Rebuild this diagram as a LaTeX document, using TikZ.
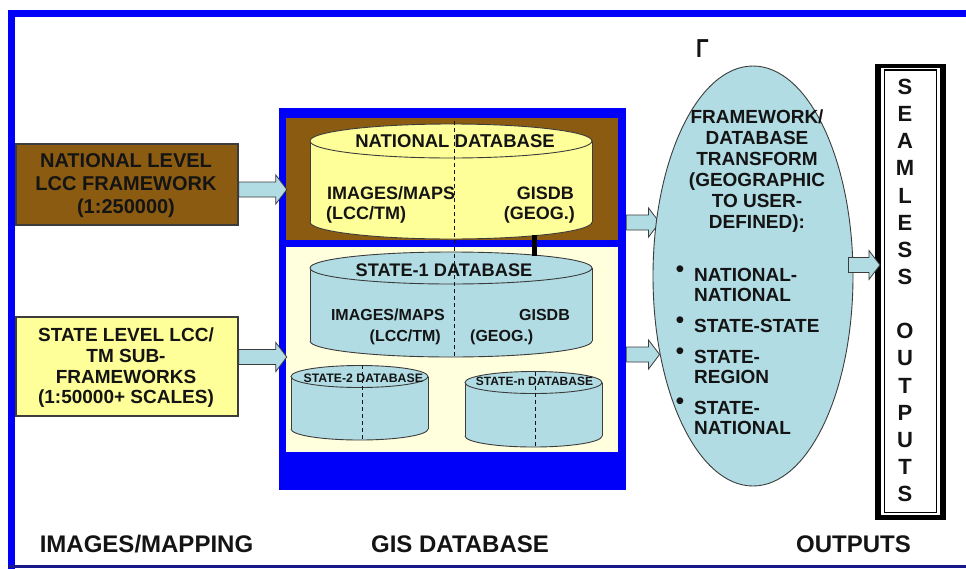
\documentclass[tikz,border=0pt]{standalone}
\usepackage{fontspec}
\setmainfont{Liberation Sans}
\usetikzlibrary{calc,shapes.geometric}
\definecolor{brownbg}{RGB}{139,91,18}
\definecolor{ylw}{RGB}{255,255,153}
\definecolor{lylw}{RGB}{255,255,222}
\definecolor{lblue}{RGB}{178,220,228}
\definecolor{abl}{RGB}{0,0,250}
\definecolor{navy}{RGB}{24,24,140}
\definecolor{edge}{RGB}{60,60,60}
\definecolor{txtc}{RGB}{20,20,20}
\pgfdeclarelayer{backl}
\pgfdeclarelayer{bgl}
\pgfsetlayers{backl,bgl,main}
\newcommand\myfs[2]{\fontsize{#1pt}{#2pt}\selectfont}
% x1 x2 ytop ybot ry colour
\newcommand\dbcyl[6]{%
  \pgfmathsetmacro\cxc{(#1+#2)/2}%
  \pgfmathsetmacro\crx{(#2-#1)/2}%
  \fill[#6] (#1,#3) rectangle (#2,#4);
  \fill[#6] (\cxc,#4) ellipse [x radius=\crx, y radius=#5];
  \draw[cyledge] (#1,#3) -- (#1,#4);
  \draw[cyledge] (#2,#3) -- (#2,#4);
  \begin{scope}
    \clip (#1-3,#4) rectangle (#2+3,#4+#5+3);
    \draw[cyledge] (\cxc,#4) ellipse [x radius=\crx, y radius=#5];
  \end{scope}
  \draw[cyledge,fill=#6] (\cxc,#3) ellipse [x radius=\crx, y radius=#5];
}
\begin{document}
\begin{tikzpicture}[x=1pt,y=-1pt,
  cyledge/.style={draw=edge, line width=0.9pt},
  txt/.style={inner sep=0pt, font=\bfseries, text=txtc},
  inbox/.style={draw=edge, line width=1.2pt, inner sep=0pt},
  dashline/.style={draw=txtc, line width=1pt, dash pattern=on 4pt off 3pt},
  barrow/.style={draw=edge, fill=lblue, line width=0.8pt, line join=miter,
    to path={let \p1=(\tikztostart), \p2=(\tikztotarget) in
      (\x1,\y1+7.5pt) -- (\x2-11pt,\y1+7.5pt) -- (\x2-11pt,\y1+14.5pt) -- (\x2,\y1)
      -- (\x2-11pt,\y1-14.5pt) -- (\x2-11pt,\y1-7.5pt) -- (\x1,\y1-7.5pt) -- cycle}}
]
\useasboundingbox (0,0) rectangle (966,568);
\begin{pgfonlayer}{backl}
\fill[white] (0,0) rectangle (966,568);
\end{pgfonlayer}
% outer frame
\draw[abl, line width=7pt, line join=miter] (11.5,572) -- (11.5,13.5) -- (972,13.5);
\draw[navy, line width=3pt] (8,566.5) -- (972,566.5);

% input boxes
\node[inbox, fill=brownbg, minimum width=222pt, minimum height=81pt] (nat) at (127,184.5) {};
\node[txt, align=center, font=\bfseries\myfs{20}{23}] (nattxt) at (126,186) {NATIONAL LEVEL\\LCC FRAMEWORK\\(1:250000)};
\node[inbox, fill=ylw, minimum width=222pt, minimum height=99pt] (stb) at (127,366.5) {};
\node[txt, align=center, font=\bfseries\myfs{19}{20.7}] (sttxt) at (126,368) {STATE LEVEL LCC/\\TM SUB-\\FRAMEWORKS\\(1:50000+ SCALES)};

% GIS database
\node[fill=abl, minimum width=347pt, minimum height=382pt, inner sep=0pt] (gis) at (452.5,299) {};
\node[fill=brownbg, minimum width=332pt, minimum height=122pt, inner sep=0pt] (natarea) at (452,179) {};
\node[fill=lylw, minimum width=332pt, minimum height=205pt, inner sep=0pt] (starea) at (452,349.5) {};

\dbcyl{310}{592}{141}{222}{17}{ylw}
\dbcyl{310}{592}{268}{341}{16}{lblue}
\dbcyl{291}{428}{376.5}{429}{11}{lblue}
\dbcyl{465}{602}{382.5}{436}{11}{lblue}

\node[txt, font=\bfseries\myfs{18.5}{20}] (ndbt) at (455,141) {NATIONAL DATABASE};
\node[txt, anchor=base west, font=\bfseries\myfs{18}{20}] (ndbl1) at (327,199.4) {IMAGES/MAPS};
\node[txt, anchor=base west, font=\bfseries\myfs{18}{20}] (ndbl2) at (326,219.4) {(LCC/TM)};
\node[txt, anchor=base east, font=\bfseries\myfs{18}{20}] (ndbr1) at (574,199.4) {GISDB};
\node[txt, anchor=base east, font=\bfseries\myfs{18}{20}] (ndbr2) at (575,219.4) {(GEOG.)};

\node[txt, font=\bfseries\myfs{18.2}{20}] (s1t) at (444,270) {STATE-1 DATABASE};
\node[txt, anchor=base east, font=\bfseries\myfs{16}{20}] (s1l1) at (445,320.7) {IMAGES/MAPS};
\node[txt, anchor=base east, font=\bfseries\myfs{16}{20}] (s1l2) at (441,341) {(LCC/TM)};
\node[txt, anchor=base east, font=\bfseries\myfs{16}{20}] (s1r1) at (570,320.7) {GISDB};
\node[txt, anchor=base west, font=\bfseries\myfs{16}{20}] (s1r2) at (470,341) {(GEOG.)};

\node[txt, font=\bfseries\myfs{12.3}{14}] (s2t) at (363.3,378.3) {STATE-2 DATABASE};
\node[txt, font=\bfseries\myfs{12}{14}] (snt) at (534.5,381.3) {STATE-n DATABASE};

\draw[dashline] (454,121) -- (454,357);
\draw[dashline] (362,365) -- (362,440);
\draw[dashline] (535,371.5) -- (535,447);
\draw[line width=5pt] ($(natarea.south)+(82,-5)$) -- ($(starea.north)+(82,9)$);

% arrows into GIS database
\coordinate (a1s) at ($(nat.east)+(0,5)$);
\coordinate (a1e) at ($(natarea.west)+(1,5)$);
\draw[barrow] (a1s) to (a1e);
\coordinate (a2s) at ($(stb.east)+(0,-9.5)$);
\coordinate (a2e) at ($(starea.west)+(1,0)$);
\draw[barrow] (a2s) to (a2e);

% transform ellipse
\node[ellipse, draw=edge, fill=lblue, line width=0.9pt, minimum width=200pt, minimum height=420pt, inner sep=0pt] (tfm) at (753,276) {};
\begin{pgfonlayer}{bgl}
\coordinate (a3s) at ($(gis.east)+(0,-76.5)$);
\coordinate (a3e) at ($(tfm.west)+(7,0)$);
\draw[barrow] (a3s) to (a3e);
\coordinate (a4s) at ($(gis.east)+(0,55.5)$);
\coordinate (a4e) at ($(tfm.west)+(7,0)$);
\draw[barrow] (a4s) to (a4e);
\end{pgfonlayer}
\node[txt, align=center, font=\bfseries\myfs{19}{21}] (tfmt) at (757,171.5) {FRAMEWORK/\\DATABASE\\TRANSFORM\\(GEOGRAPHIC\\TO USER-\\DEFINED):};
\node[txt, font=\myfs{25}{25}] (bu1) at (680,272) {•};
\node[txt, font=\myfs{25}{25}] (bu2) at (680,322.5) {•};
\node[txt, font=\myfs{25}{25}] (bu3) at (680,354) {•};
\node[txt, font=\myfs{25}{25}] (bu4) at (680,404) {•};
\node[txt, anchor=base west, font=\bfseries\myfs{19}{21}] (i1a) at (694,281.8) {NATIONAL-};
\node[txt, anchor=base west, font=\bfseries\myfs{19}{21}] (i1b) at (694,301.8) {NATIONAL};
\node[txt, anchor=base west, font=\bfseries\myfs{19}{21}] (i2) at (694,332.8) {STATE-STATE};
\node[txt, anchor=base west, font=\bfseries\myfs{19}{21}] (i3a) at (694,363.3) {STATE-};
\node[txt, anchor=base west, font=\bfseries\myfs{19}{21}] (i3b) at (694,383.3) {REGION};
\node[txt, anchor=base west, font=\bfseries\myfs{19}{21}] (i4a) at (694,414.8) {STATE-};
\node[txt, anchor=base west, font=\bfseries\myfs{19}{21}] (i4b) at (694,434.8) {NATIONAL};

% seamless outputs box
\node[draw=black, line width=3.5pt, minimum width=66.6pt, minimum height=453pt, inner sep=0pt] (seam) at (910.5,292) {};
\draw[line width=2pt] ($(seam.north west)+(4.8,3.7)$) rectangle ($(seam.south east)+(-4.6,-4)$);
\draw[line width=1.1pt] ($(seam.north west)+(9.3,6.2)$) rectangle ($(seam.south east)+(-8.8,-7.5)$);
\node[txt, align=center, font=\bfseries\myfs{22}{27.13}] (seamt) at (905,290.5) {S\\E\\A\\M\\L\\E\\S\\S\\[27.13pt]O\\U\\T\\P\\U\\T\\S};
\coordinate (a5s) at ($(tfm.east)+(-5,-11)$);
\coordinate (a5e) at ($(seam.west)+(4.5,0)$);
\draw[barrow] (a5s) to (a5e);

% stray mark and column labels
\node[txt, anchor=north west, xscale=0.8, font=\bfseries\myfs{26}{28}] (gam) at (696,39) {Γ};
\node[txt, anchor=base, font=\bfseries\myfs{24}{28}] (lab1) at (146.5,552.6) {IMAGES/MAPPING};
\node[txt, anchor=base, font=\bfseries\myfs{24}{28}] (lab2) at (460,552.6) {GIS DATABASE};
\node[txt, anchor=base, font=\bfseries\myfs{24}{28}] (lab3) at (853.5,552.6) {OUTPUTS};
\end{tikzpicture}
\end{document}
